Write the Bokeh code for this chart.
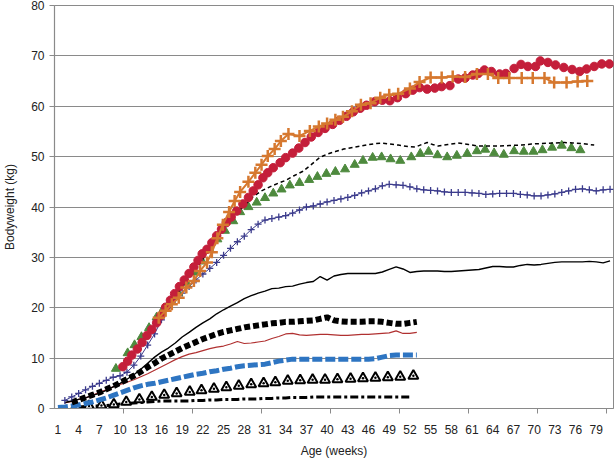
from bokeh.plotting import figure
from bokeh.models import FixedTicker, Range1d
from bokeh.embed import file_html
from bokeh.resources import INLINE

# ---------------- data (weeks, kg) ----------------
x_tick_labels = list(range(1, 80, 3))
y_ticks = list(range(0, 81, 10))

red_x = [10.4, 11.1, 11.7, 12.5, 13.2, 13.9, 14.6, 15.3, 15.9, 16.6,
         17.3, 17.9, 18.6, 19.3, 20.0, 20.7, 21.3, 21.9, 22.6, 23.3,
         24.0, 24.7, 25.4, 26.1, 26.9, 27.8, 28.6, 29.3, 30.0, 30.7,
         31.4, 32.2, 33.2, 34.0, 35.0, 35.9, 36.8, 37.7, 38.7, 39.7,
         40.8, 41.8, 42.8, 43.8, 44.8, 45.7, 46.9, 48.0, 49.1, 50.2,
         51.4, 52.4, 53.4, 54.5, 55.6, 56.6, 57.8, 59.0, 60.0, 61.1,
         61.9, 62.8, 63.8, 65.0, 65.9, 67.1, 68.1, 69.1, 70.2, 70.9,
         72.0, 73.1, 74.3, 75.5, 76.6, 77.6, 78.7, 79.8, 80.9]
red_y = [8.3, 9.4, 10.6, 11.8, 13.1, 14.5, 15.7, 17.0, 18.4, 20.1,
         21.5, 22.8, 24.2, 25.5, 26.8, 28.1, 29.4, 30.7, 31.6, 32.9,
         34.3, 35.6, 36.9, 38.0, 39.2, 40.6, 41.9, 43.2, 44.4, 45.8,
         46.8, 47.8, 48.8, 49.8, 50.7, 51.7, 52.8, 53.9, 54.8, 55.6,
         56.4, 57.2, 58.0, 58.9, 59.6, 60.2, 60.9, 61.2, 61.1, 61.7,
         62.5, 63.2, 63.7, 63.4, 63.6, 63.9, 64.1, 65.4, 65.6, 66.2,
         66.5, 67.2, 66.9, 66.4, 66.5, 67.5, 68.3, 67.9, 67.9, 69.0,
         68.7, 68.2, 67.7, 67.3, 66.9, 67.4, 67.9, 68.4, 68.4]

orange_x = [15.6, 16.6, 17.5, 18.5, 19.6, 20.7, 21.6, 22.6, 23.3, 24.1,
            24.9, 25.8, 26.6, 27.4, 28.6, 29.6, 30.5, 31.4, 32.4, 33.3,
            34.4, 36.0, 37.5, 38.8, 40.0, 41.2, 42.3, 43.6, 44.9, 46.3,
            47.7, 49.0, 50.3, 52.0, 53.4, 55.0, 56.6, 58.2, 60.0, 61.7,
            63.3, 64.8, 66.4, 68.2, 69.8, 71.5, 72.9, 74.7, 76.3, 77.7]
orange_y = [18.0, 19.4, 20.7, 22.0, 24.0, 25.3, 27.3, 29.0, 31.0, 33.8,
            36.5, 39.0, 41.2, 43.0, 45.0, 46.8, 48.4, 50.1, 51.5, 53.1,
            54.5, 54.1, 55.1, 56.0, 56.6, 57.3, 57.9, 59.0, 60.3, 60.6,
            61.7, 62.3, 62.5, 63.5, 64.8, 65.7, 65.7, 65.9, 65.8, 66.4,
            66.4, 65.6, 65.6, 65.6, 65.6, 65.6, 64.7, 64.7, 64.9, 65.0]

dash_x = [13.2, 14.2, 15.2, 16.2, 17.2, 18.2, 19.2, 20.3, 21.3, 22.3,
          23.3, 24.5, 25.6, 26.8, 28.1, 29.3, 30.5, 31.7, 32.9, 34.0,
          35.2, 36.5, 37.7, 38.9, 40.0, 41.2, 42.4, 43.7, 44.9, 46.1,
          47.1, 48.0, 49.1, 50.3, 51.7, 52.8, 53.7, 54.5, 55.3, 56.1,
          57.5, 59.0, 60.5, 61.9, 63.3, 64.7, 66.4, 68.2, 69.6, 71.0,
          72.7, 74.4, 75.6, 76.8, 78.7]
dash_y = [12.6, 14.8, 16.8, 18.8, 20.7, 22.6, 24.5, 26.4, 28.3, 30.2,
          32.2, 34.9, 37.0, 38.7, 40.4, 42.1, 43.2, 44.0, 44.7, 45.3,
          46.2, 47.1, 48.4, 49.8, 50.5, 51.0, 51.5, 51.8, 52.1, 52.4,
          52.6, 52.7, 52.5, 52.3, 52.0, 51.9, 52.4, 52.8, 52.4, 52.1,
          52.4, 52.7, 52.4, 52.1, 52.1, 52.1, 52.2, 52.3, 52.5, 52.6,
          52.7, 52.8, 52.7, 52.6, 52.3]

green_x = [9.4, 11.1, 12.1, 13.1, 14.2, 15.3, 16.3, 17.3, 18.4, 19.6,
           20.8, 21.9, 23.0, 24.1, 25.2, 26.4, 27.4, 28.6, 29.8, 31.0,
           32.2, 33.4, 34.6, 36.0, 37.4, 38.6, 39.9, 41.2, 42.6, 44.0,
           45.2, 46.6, 47.9, 49.2, 50.6, 52.2, 53.5, 54.7, 56.0, 57.4,
           58.8, 60.3, 61.7, 62.9, 64.2, 65.6, 67.1, 68.5, 69.9, 71.2,
           72.6, 74.0, 75.4, 76.7]
green_y = [7.9, 11.0, 12.6, 14.2, 16.0, 18.1, 19.8, 21.3, 23.0, 25.0,
           27.0, 29.2, 31.5, 33.6, 35.3, 37.2, 39.0, 40.0, 40.9, 41.8,
           42.7, 43.5, 44.3, 44.8, 45.4, 46.0, 46.6, 47.0, 47.5, 48.4,
           49.2, 49.8, 49.9, 49.5, 49.2, 49.9, 50.6, 51.0, 50.3, 49.9,
           50.2, 50.6, 51.1, 51.4, 50.7, 50.4, 51.1, 51.0, 51.0, 51.3,
           51.8, 52.2, 51.7, 51.3]

navy_x = list(range(2, 82))
navy_y = [1.6, 2.3, 3.0, 3.7, 4.4, 5.0, 5.6, 6.2, 6.5, 7.2,
          8.6, 10.4, 12.6, 14.8, 17.6, 20.0, 21.7, 22.9, 24.2, 25.5,
          26.7, 27.8, 29.0, 30.4, 31.8, 33.1, 34.2, 35.5, 36.6, 37.4,
          37.7, 38.0, 38.3, 38.8, 39.4, 40.0, 40.2, 40.6, 41.0, 41.3,
          41.6, 41.9, 42.3, 42.8, 43.2, 43.6, 44.2, 44.5, 44.4, 44.3,
          44.0, 43.6, 43.4, 43.3, 43.2, 43.0, 42.9, 42.9, 42.9, 42.8,
          42.7, 42.5, 42.6, 42.7, 42.7, 42.7, 42.5, 42.4, 42.2, 42.2,
          42.4, 42.6, 42.9, 43.2, 43.5, 43.6, 43.4, 43.2, 43.4, 43.5]

solid_x = list(range(2, 82))
solid_y = [1.2, 1.5, 1.8, 2.1, 2.6, 3.0, 3.6, 4.3, 5.0, 5.8,
           6.7, 7.8, 9.0, 10.2, 11.2, 12.0, 13.0, 14.2, 15.1, 16.1,
           17.0, 17.8, 18.8, 19.6, 20.3, 21.0, 21.8, 22.4, 22.9, 23.3,
           23.8, 23.9, 24.2, 24.3, 24.7, 25.0, 25.2, 26.2, 25.5, 26.3,
           26.6, 26.8, 26.8, 26.8, 26.8, 26.8, 27.1, 27.6, 28.1, 27.7,
           27.0, 27.2, 27.3, 27.3, 27.3, 27.2, 27.2, 27.3, 27.4, 27.5,
           27.6, 27.9, 28.2, 28.2, 28.1, 28.1, 28.4, 28.6, 28.5, 28.6,
           28.8, 29.0, 29.1, 29.1, 29.1, 29.1, 29.2, 29.1, 28.9, 29.3]

thick_x = list(range(3, 54))
thick_y = [1.2, 1.7, 2.2, 2.7, 3.2, 3.8, 4.4, 5.1, 5.8, 6.5,
           7.3, 8.2, 9.0, 9.9, 10.6, 11.3, 12.0, 12.6, 13.2, 13.8,
           14.3, 14.8, 15.2, 15.5, 15.8, 16.1, 16.3, 16.5, 16.7, 16.9,
           17.0, 17.2, 17.2, 17.3, 17.4, 17.5, 17.8, 18.1, 17.5, 17.3,
           17.2, 17.2, 17.2, 17.3, 17.3, 17.2, 17.0, 16.8, 16.8, 17.0,
           17.2]

brown_x = list(range(2, 54))
brown_y = [1.1, 1.4, 1.8, 2.1, 2.6, 3.2, 3.7, 4.3, 4.8, 5.2,
           5.7, 6.3, 6.9, 7.6, 8.3, 9.0, 9.7, 10.3, 10.8, 11.1,
           11.5, 11.9, 12.2, 12.4, 12.8, 13.3, 12.9, 13.0, 13.2, 13.4,
           13.9, 14.3, 14.8, 14.9, 14.6, 14.5, 14.6, 14.7, 14.7, 14.6,
           14.5, 14.5, 14.6, 14.7, 14.7, 14.8, 14.9, 15.0, 15.4, 14.9,
           14.9, 15.1]

blue_x = list(range(1, 54))
blue_y = [0.2, 0.3, 0.5, 0.7, 1.0, 1.3, 1.7, 2.1, 2.6, 3.1,
          3.6, 4.1, 4.5, 4.8, 5.0, 5.3, 5.6, 5.9, 6.2, 6.5,
          6.8, 7.0, 7.3, 7.5, 7.8, 8.0, 8.3, 8.5, 8.6, 8.7,
          8.8, 9.1, 9.4, 9.6, 9.8, 9.8, 9.8, 9.8, 9.8, 9.8,
          9.8, 9.8, 9.8, 9.8, 9.8, 9.8, 9.9, 10.2, 10.5, 10.6,
          10.6, 10.6, 10.6]

tri_x = [3.6, 5.5, 7.3, 9.1, 10.9, 12.8, 14.6, 16.4, 18.2, 20.1,
         21.8, 23.6, 25.4, 27.2, 29.0, 30.8, 32.5, 34.3, 36.1, 37.9,
         39.7, 41.5, 43.4, 45.2, 47.0, 48.8, 50.6, 52.5]
tri_y = [0.4, 0.5, 0.6, 0.8, 1.3, 1.8, 2.3, 2.7, 3.0, 3.3,
         3.6, 3.9, 4.2, 4.5, 4.8, 5.0, 5.2, 5.5, 5.6, 5.7,
         5.7, 5.8, 5.9, 6.0, 6.1, 6.2, 6.3, 6.5]

dd_x = list(range(4, 53))
dd_y = [0.3, 0.4, 0.5, 0.5, 0.6, 0.7, 0.9, 1.0, 1.1, 1.2,
        1.3, 1.4, 1.5, 1.5, 1.5, 1.5, 1.5, 1.6, 1.6, 1.7,
        1.7, 1.8, 1.8, 1.8, 1.9, 1.9, 1.9, 2.0, 2.0, 2.1,
        2.1, 2.2, 2.2, 2.2, 2.3, 2.3, 2.3, 2.3, 2.3, 2.3,
        2.3, 2.3, 2.3, 2.3, 2.3, 2.3, 2.3, 2.3, 2.3]

# ---------------- figure ----------------
FONT = "Liberation Sans"
GRAY = "#8a8a8a"

p = figure(width=614, height=460, output_backend="svg", toolbar_location=None,
           x_range=Range1d(0.5, 81.5), y_range=Range1d(0, 80),
           min_border_left=50, min_border_right=1, min_border_top=5,
           min_border_bottom=52, background_fill_color="white",
           border_fill_color="white")

p.outline_line_color = GRAY
p.outline_line_width = 1
p.xgrid.grid_line_color = None
p.ygrid.grid_line_color = GRAY
p.ygrid.grid_line_width = 1.2
p.ygrid.ticker = FixedTicker(ticks=y_ticks)

xa = p.xaxis[0]
xa.ticker = FixedTicker(ticks=x_tick_labels,
                        minor_ticks=[10.5, 20.5, 30.5, 40.5, 50.5, 60.5, 70.5, 80.5])
xa.major_tick_line_color = None
xa.major_tick_out = 0
xa.major_tick_in = 0
xa.minor_tick_line_color = GRAY
xa.minor_tick_out = 5
xa.minor_tick_in = 0
xa.major_label_standoff = 11
xa.axis_line_color = GRAY
xa.axis_line_width = 1.2
xa.axis_label = "Age (weeks)"
xa.axis_label_standoff = 7

ya = p.yaxis[0]
ya.ticker = FixedTicker(ticks=y_ticks)
ya.major_tick_line_color = GRAY
ya.major_tick_out = 5
ya.major_tick_in = 0
ya.minor_tick_line_color = None
ya.major_label_standoff = 5
ya.axis_line_color = GRAY
ya.axis_line_width = 1.2
ya.axis_label = "Bodyweight (kg)"
ya.axis_label_standoff = 11

for ax in (xa, ya):
    ax.major_label_text_font = FONT
    ax.major_label_text_font_size = "12px"
    ax.major_label_text_color = "#222222"
    ax.axis_label_text_font = FONT
    ax.axis_label_text_font_size = "12px"
    ax.axis_label_text_font_style = "normal"
    ax.axis_label_text_color = "#222222"

# lower group
p.line(dd_x, dd_y, line_color="black", line_width=3, line_dash="8 3 3 3")
p.scatter(tri_x, tri_y, marker="triangle_dot", size=10, line_color="black",
          line_width=2, fill_color="white")
p.line(blue_x, blue_y, line_color="#2E75C2", line_width=5, line_dash="10 3")
p.line(brown_x, brown_y, line_color="#B03030", line_width=1.2)
p.line(thick_x, thick_y, line_color="black", line_width=6, line_dash="6 3")
p.line(solid_x, solid_y, line_color="black", line_width=1.4)

# upper group
p.line(navy_x, navy_y, line_color="#3B3B8C", line_width=1)
p.scatter(navy_x, navy_y, marker="cross", size=7, line_color="#3B3B8C", line_width=1.3)
p.scatter(green_x, green_y, marker="triangle", size=9, fill_color="#4E8A3E",
          line_color="#4E8A3E")
p.line(dash_x, dash_y, line_color="black", line_width=1.5, line_dash="4 3")
p.scatter(red_x, red_y, marker="circle", size=8.5, fill_color="#C41E3A",
          line_color="#C41E3A")
p.line(orange_x, orange_y, line_color="#D6782F", line_width=2)
p.scatter(orange_x, orange_y, marker="cross", size=12, line_color="#D6782F",
          line_width=2.5)

open("out.html", "w").write(file_html(p, INLINE))
